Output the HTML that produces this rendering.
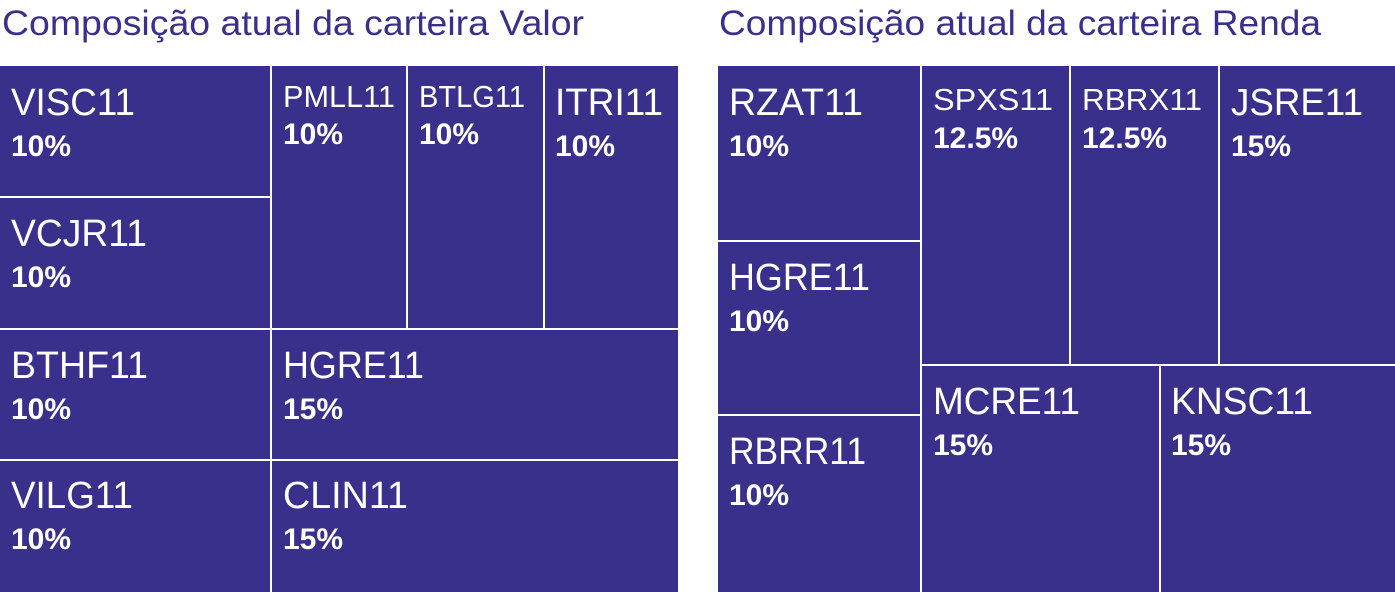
<!DOCTYPE html>
<html><head><meta charset="utf-8"><style>
html,body{margin:0;padding:0;background:#fff;width:1395px;height:592px;overflow:hidden}
svg text{font-family:"Liberation Sans",sans-serif}
</style></head><body>
<svg width="1395" height="592" viewBox="0 0 1395 592" xmlns="http://www.w3.org/2000/svg">
<g fill="#38308a">
<text x="2" y="35" font-size="35" textLength="582" lengthAdjust="spacingAndGlyphs">Composição atual da carteira Valor</text>
<text x="719" y="35" font-size="35" textLength="602" lengthAdjust="spacingAndGlyphs">Composição atual da carteira Renda</text>
<rect x="0" y="66" width="270" height="130"/>
<rect x="0" y="198" width="270" height="130"/>
<rect x="0" y="330" width="270" height="129"/>
<rect x="0" y="461" width="270" height="131"/>
<rect x="272" y="66" width="134" height="262"/>
<rect x="408" y="66" width="135" height="262"/>
<rect x="545" y="66" width="133" height="262"/>
<rect x="272" y="330" width="406" height="129"/>
<rect x="272" y="461" width="406" height="131"/>
<rect x="718" y="66" width="202" height="174"/>
<rect x="718" y="242" width="202" height="172"/>
<rect x="718" y="416" width="202" height="176"/>
<rect x="922" y="66" width="147" height="298"/>
<rect x="1071" y="66" width="147" height="298"/>
<rect x="1220" y="66" width="175" height="298"/>
<rect x="922" y="366" width="237" height="226"/>
<rect x="1161" y="366" width="234" height="226"/>
</g>
<g fill="#fff">
<g font-size="38">
<text x="11" y="115" textLength="124" lengthAdjust="spacingAndGlyphs">VISC11</text>
<text x="11" y="246" textLength="136" lengthAdjust="spacingAndGlyphs">VCJR11</text>
<text x="11" y="378" textLength="137" lengthAdjust="spacingAndGlyphs">BTHF11</text>
<text x="11" y="508" textLength="122" lengthAdjust="spacingAndGlyphs">VILG11</text>
<text x="555" y="115" textLength="108" lengthAdjust="spacingAndGlyphs">ITRI11</text>
<text x="283" y="378" textLength="141" lengthAdjust="spacingAndGlyphs">HGRE11</text>
<text x="283" y="508" textLength="125" lengthAdjust="spacingAndGlyphs">CLIN11</text>
<text x="729" y="115" textLength="134" lengthAdjust="spacingAndGlyphs">RZAT11</text>
<text x="729" y="290" textLength="141" lengthAdjust="spacingAndGlyphs">HGRE11</text>
<text x="729" y="464" textLength="137" lengthAdjust="spacingAndGlyphs">RBRR11</text>
<text x="1231" y="115" textLength="132" lengthAdjust="spacingAndGlyphs">JSRE11</text>
<text x="933" y="414" textLength="147" lengthAdjust="spacingAndGlyphs">MCRE11</text>
<text x="1171" y="414" textLength="142" lengthAdjust="spacingAndGlyphs">KNSC11</text>
</g>
<g font-size="31">
<text x="283" y="107" textLength="112" lengthAdjust="spacingAndGlyphs">PMLL11</text>
<text x="419" y="107" textLength="106" lengthAdjust="spacingAndGlyphs">BTLG11</text>
<text x="933" y="110" textLength="120" lengthAdjust="spacingAndGlyphs">SPXS11</text>
<text x="1082" y="110" textLength="120" lengthAdjust="spacingAndGlyphs">RBRX11</text>
</g>
<g font-size="30" font-weight="bold">
<text x="11" y="156">10%</text>
<text x="11" y="287">10%</text>
<text x="11" y="419">10%</text>
<text x="11" y="549">10%</text>
<text x="555" y="156">10%</text>
<text x="283" y="144">10%</text>
<text x="419" y="144">10%</text>
<text x="283" y="419">15%</text>
<text x="283" y="549">15%</text>
<text x="729" y="156">10%</text>
<text x="729" y="331">10%</text>
<text x="729" y="505">10%</text>
<text x="1231" y="156">15%</text>
<text x="933" y="148">12.5%</text>
<text x="1082" y="148">12.5%</text>
<text x="933" y="455">15%</text>
<text x="1171" y="455">15%</text>
</g>
</g>
</svg>
</body></html>
